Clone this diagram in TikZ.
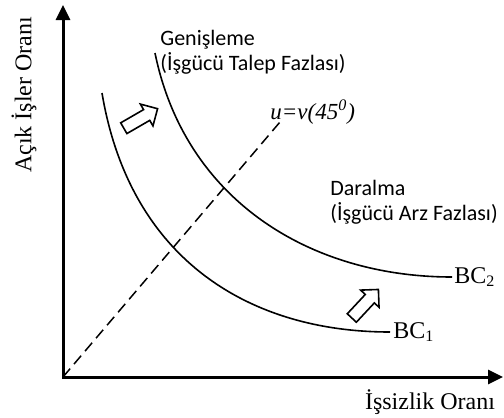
\documentclass[tikz,border=0pt]{standalone}
\usepackage{fontspec}
\setmainfont{Liberation Serif}
\newfontfamily\calibri{Carlito}
\usetikzlibrary{arrows.meta,positioning,shapes.arrows}
\tikzset{
  eksen/.style={line width=1.5pt,{Triangle[length=7.5pt,width=7pt]}-{Triangle[length=7.5pt,width=7pt]}},
  egri/.style={line width=0.8pt},
  kesik/.style={line width=0.75pt,dash pattern=on 5.5pt off 3pt},
  blok/.style={single arrow,draw,fill=white,line width=0.8pt,minimum height=19.5pt,
    inner xsep=0pt,inner ysep=2.7pt,single arrow head extend=3.2pt},
  yazi/.style={font=\calibri\fontsize{11}{12.5}\selectfont,align=left,inner sep=0pt},
  etiket/.style={font=\fontsize{12}{14}\selectfont,inner sep=0pt},
}

\begin{document}
\begin{tikzpicture}[x=0.5pt,y=-0.5pt]
  \useasboundingbox (0,0) rectangle (504,418);
  \coordinate (O) at (63,377);
  \coordinate (ytip) at (63,5);
  \coordinate (xtip) at (503,377);
  \coordinate (dtop) at (280,122);
  \draw[eksen] (ytip) -- (O) -- (xtip);
  \node[etiket,rotate=90] (ylab) at (24,95) {Açık İşler Oranı};
  \node[etiket] (xlab) at (430,402) {İşsizlik Oranı};
  \node[etiket,anchor=west,inner sep=1.5pt] (bc1) at (390,332) {BC\textsubscript{1}};
  \node[etiket,anchor=west,inner sep=1pt] (bc2) at (452,277) {BC\textsubscript{2}};
  \draw[egri] (102,93) .. controls (130,260) and (250,332) .. (bc1.west);
  \draw[egri] (155,53) .. controls (185,200) and (310,277) .. (bc2.west);
  \draw[kesik] (O) -- (dtop);
  \node[etiket,font=\fontsize{11.5}{13}\selectfont\itshape,anchor=west] (uv) at (270,112)
    {u=v(45\textsuperscript{0})};
  \node[yazi,anchor=west] (genis) at (160,52) {Genişleme\\(İşgücü Talep Fazlası)};
  \node[yazi,anchor=west] (daral) at (330,202) {Daralma\\(İşgücü Arz Fazlası)};
  \node[blok,rotate=30] (ok1) at (138,120) {};
  \node[blok,rotate=47] (ok2) at (363,306) {};
\end{tikzpicture}
\end{document}
